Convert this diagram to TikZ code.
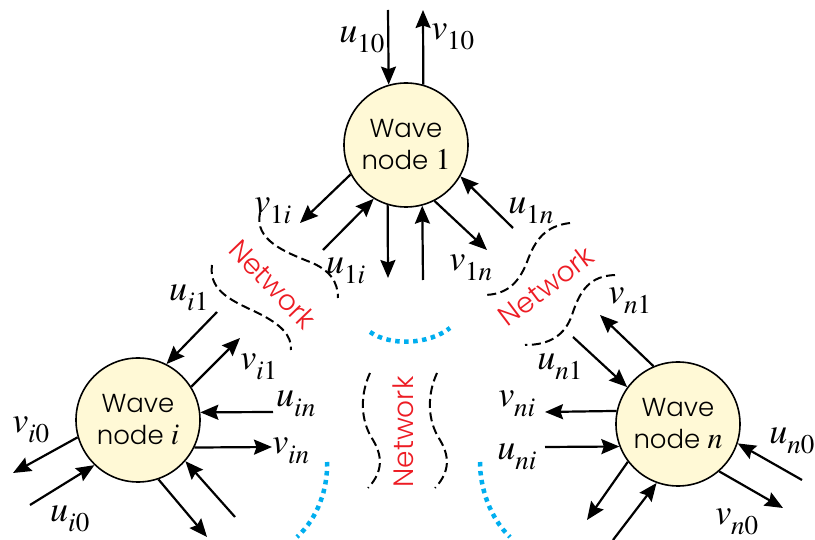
\documentclass[tikz,border=0pt]{standalone}
\usepackage{mathptmx}
\usepackage[no-math]{fontspec}
\newfontfamily\wavefont{Poppins}[UprightFont={* Light}]
\usetikzlibrary{arrows.meta}
\definecolor{nodefill}{RGB}{255,249,214}
\definecolor{netred}{RGB}{237,28,36}
\definecolor{dotblue}{RGB}{0,174,239}
\DeclareMathSizes{36}{36}{27}{20}
\DeclareMathSizes{26}{26}{19}{14}
\DeclareMathSizes{30}{30}{22}{16}
\newcommand\lb[2]{#1_{\raisebox{-4pt}{$\scriptstyle #2$}}}
\newcommand\nid[1]{{\fontsize{30}{32}\selectfont$#1$}}
\begin{document}
\begin{tikzpicture}[x=1pt,y=-1pt,
  wnode/.style={circle,draw,line width=1.6pt,fill=nodefill,minimum size=124pt,inner sep=0pt,align=center,font=\wavefont\fontsize{26}{32}\selectfont},
  arr/.style={line width=2.2pt,-{Stealth[length=18pt,width=15pt,inset=2.5pt]}},
  lbl/.style={font=\fontsize{36}{42}\selectfont,inner sep=0pt},
  netlbl/.style={text=netred,font=\wavefont\fontsize{28}{32}\selectfont,inner sep=0pt},
  net/.style={line width=2pt,dash pattern=on 9pt off 4.5pt},
  more/.style={line width=4.5pt,draw=dotblue,dash pattern=on 4.5pt off 4.5pt}]
\useasboundingbox (0,0) rectangle (815,540);

% nodes
\node[wnode] (n1) at (406,145) {Wave\\node \nid{1}};
\node[wnode] (ni) at (138,420) {Wave\\node \nid{i}};
\node[wnode] (nn) at (678,424) {Wave\\node \nid{n}};

% free ends
\coordinate (a10) at (388,10);
\coordinate (b10) at (423,10);
\coordinate (b1i) at (300,223);
\coordinate (a1i) at (323,250);
\coordinate (bd1) at (388,278);
\coordinate (au1) at (423,280);
\coordinate (b1n) at (487,250);
\coordinate (a1n) at (513,228);

\coordinate (ai1) at (217,312);
\coordinate (bi1) at (240,338);
\coordinate (ain) at (273,412);
\coordinate (bin) at (272,447);
\coordinate (aix) at (235,517);
\coordinate (bix) at (207,537);
\coordinate (bi0) at (13,473);
\coordinate (ai0) at (30,505);

\coordinate (bn1) at (600,315);
\coordinate (an1) at (573,337);
\coordinate (bni) at (545,412);
\coordinate (ani) at (545,447);
\coordinate (an0) at (802,480);
\coordinate (bn0) at (783,508);
\coordinate (bnx) at (587,520);
\coordinate (anx) at (613,540);

% node 1 arrows
\draw[arr] (a10) -- (n1.106.7);
\draw[arr] (n1.74.2) -- (b10);
\draw[arr] (n1.208.2) -- (b1i);
\draw[arr] (a1i) -- (n1.239.7);
\draw[arr] (n1.253.3) -- (bd1);
\draw[arr] (au1) -- (n1.285.8);
\draw[arr] (n1.297.8) -- (b1n);
\draw[arr] (a1n) -- (n1.330.3);

% node i arrows
\draw[arr] (ai1) -- (ni.63.4);
\draw[arr] (ni.32.4) -- (bi1);
\draw[arr] (ain) -- (ni.7.4);
\draw[arr] (ni.334.7) -- (bin);
\draw[arr] (aix) -- (ni.319.3);
\draw[arr] (ni.289.3) -- (bix);
\draw[arr] (ni.196.4) -- (bi0);
\draw[arr] (ai0) -- (ni.226.8);

% node n arrows
\draw[arr] (nn.113.8) -- (bn1);
\draw[arr] (an1) -- (nn.144.8);
\draw[arr] (nn.168.7) -- (bni);
\draw[arr] (ani) -- (nn.201);
\draw[arr] (an0) -- (nn.342.4);
\draw[arr] (nn.311.2) -- (bn0);
\draw[arr] (nn.217.2) -- (bnx);
\draw[arr] (anx) -- (nn.250.4);

% labels
\node[lbl] (lu10) at (362,40) {$\lb{u}{10}$};
\node[lbl] (lv10) at (453,37) {$\lb{v}{10}$};
\node[lbl] (lv1i) at (273,211) {$\lb{v}{1i}$};
\node[lbl] (lu1i) at (346,271) {$\lb{u}{1i}$};
\node[lbl] (lv1n) at (471,268) {$\lb{v}{1n}$};
\node[lbl] (lu1n) at (531,211) {$\lb{u}{1n}$};

\node[lbl] (lui1) at (189,298) {$\lb{u}{i1}$};
\node[lbl] (lvi1) at (259,367) {$\lb{v}{i1}$};
\node[lbl] (luin) at (296,404) {$\lb{u}{in}$};
\node[lbl] (lvin) at (291,451) {$\lb{v}{in}$};
\node[lbl] (lvi0) at (31,430) {$\lb{v}{i0}$};
\node[lbl] (lui0) at (70,519) {$\lb{u}{i0}$};

\node[lbl] (lvn1) at (630,301) {$\lb{v}{n1}$};
\node[lbl] (lun1) at (560,367) {$\lb{u}{n1}$};
\node[lbl] (lvni) at (517,404) {$\lb{v}{ni}$};
\node[lbl] (luni) at (517,457) {$\lb{u}{ni}$};
\node[lbl] (lun0) at (792,441) {$\lb{u}{n0}$};
\node[lbl] (lvn0) at (737,522) {$\lb{v}{n0}$};

% network boundaries
\draw[net] (260,213) .. controls (254,240) and (285,252) .. (310,262) .. controls (330,270) and (338,282) .. (338,298);
\draw[net] (212,265) .. controls (208,292) and (235,302) .. (258,313) .. controls (280,324) and (292,335) .. (291,350);
\draw[net] (570,223) .. controls (545,226) and (535,240) .. (527,262) .. controls (518,285) and (505,295) .. (483,295);
\draw[net] (615,275) .. controls (590,276) and (580,290) .. (572,315) .. controls (565,335) and (550,345) .. (525,345);
\draw[net] (370,373) .. controls (360,395) and (360,420) .. (373,440) .. controls (385,460) and (380,475) .. (368,488);
\draw[net] (437,373) .. controls (427,395) and (427,420) .. (440,440) .. controls (452,460) and (447,475) .. (435,488);

\node[netlbl,rotate=-46] (netL) at (273,284) {Network};
\node[netlbl,rotate=37] (netR) at (546,286) {Network};
\node[netlbl,rotate=90] (netC) at (403,432) {Network};

% more connections
\draw[more] (370,332) .. controls (390,346) and (428,345) .. (450,328);
\draw[more] (327,462) .. controls (328,488) and (318,518) .. (297,537);
\draw[more] (480,462) .. controls (480,488) and (490,518) .. (510,537);
\end{tikzpicture}
\end{document}
